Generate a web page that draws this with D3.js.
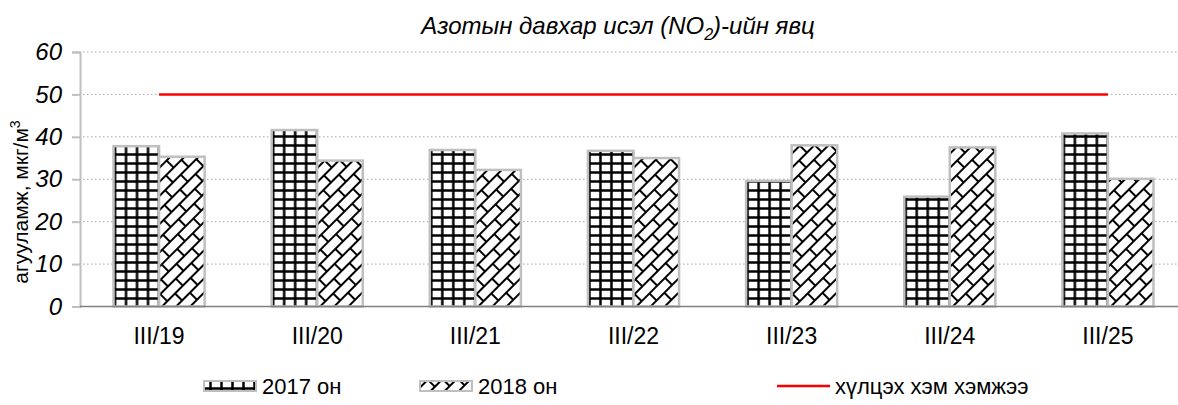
<!DOCTYPE html>
<html>
<head>
<meta charset="utf-8">
<script src="https://cdn.jsdelivr.net/npm/d3@7"></script>
<style>
  body { margin: 0; background: #fff; }
  svg { display: block; font-family: Arial, "Liberation Sans", sans-serif; }
</style>
</head>
<body>
<div id="chart"></div>
<script>
// chart data
const categories = ['III/19', 'III/20', 'III/21', 'III/22', 'III/23', 'III/24', 'III/25'];
const values2017 = [37.8, 41.6, 36.9, 36.7, 29.6, 25.9, 40.8];
const values2018 = [35.3, 34.4, 32.2, 35.0, 38.0, 37.5, 30.1];
const limitValue = 50;
const yTicks = [0, 10, 20, 30, 40, 50, 60];
const seriesNames = ['2017 он', '2018 он'];
const limitName = 'хүлцэх хэм хэмжээ';

// layout
const width = 1178, height = 405;
const margin = {t: 52, l: 80};
const plotBottom = 306.5;
const plotRight = 1187;

const svg = d3.select('#chart').append('svg')
    .attr('width', width)
    .attr('height', height);

// patterns
const defs = svg.append('defs');

const grid = defs.append('pattern')
    .attr('id', 'pat-grid')
    .attr('patternUnits', 'userSpaceOnUse')
    .attr('width', 11)
    .attr('height', 9);
grid.append('rect').attr('width', 11).attr('height', 9).attr('fill', '#fff');
grid.append('line').attr('x1', 1.5).attr('x2', 1.5).attr('y1', 0).attr('y2', 9)
    .attr('stroke', '#000').attr('stroke-width', 2.5);
grid.append('line').attr('x1', 0).attr('x2', 11).attr('y1', 1.5).attr('y2', 1.5)
    .attr('stroke', '#000').attr('stroke-width', 2.5);

const brick = defs.append('pattern')
    .attr('id', 'pat-brick')
    .attr('patternUnits', 'userSpaceOnUse')
    .attr('width', 22)
    .attr('height', 20)
    .attr('patternTransform', 'rotate(-45)');
brick.append('rect').attr('width', 22).attr('height', 20).attr('fill', '#fff');
brick.append('path')
    .attr('d', 'M0,1H22M0,11H22M1,1V11M12,11V21')
    .attr('stroke', '#000')
    .attr('stroke-width', 2)
    .attr('fill', 'none');

// scales
const x0 = d3.scaleBand()
    .domain(categories)
    .range([margin.l, plotRight])
    .paddingInner(0.424)
    .paddingOuter(0.212);

const x1 = d3.scaleBand()
    .domain(seriesNames)
    .range([0, x0.bandwidth()]);

const y = d3.scaleLinear()
    .domain([0, 60])
    .range([plotBottom, margin.t]);

// gridlines
svg.append('g').selectAll('line')
    .data(yTicks.filter(d => d > 0))
    .join('line')
    .attr('x1', margin.l + 3)
    .attr('x2', width)
    .attr('y1', d => y(d))
    .attr('y2', d => y(d))
    .attr('stroke', '#a6a6a6')
    .attr('stroke-width', 1)
    .attr('stroke-dasharray', '1.5,2.5');

// y axis
const yAxis = svg.append('g')
    .attr('transform', `translate(${margin.l},0)`)
    .call(d3.axisLeft(y).tickValues(yTicks).tickSize(8).tickPadding(10));
yAxis.select('.domain').attr('stroke', '#bfbfbf').attr('stroke-width', 2);
yAxis.selectAll('.tick line').attr('stroke', '#bfbfbf').attr('stroke-width', 2);
yAxis.selectAll('.tick text')
    .attr('fill', '#000')
    .style('font-size', '24px')
    .style('font-style', 'italic')
    .style('font-family', 'Arial, "Liberation Sans", sans-serif');

// bars
const data = categories.map((c, i) => ({cat: c, vals: [values2017[i], values2018[i]]}));
const fills = ['url(#pat-grid)', 'url(#pat-brick)'];

const groups = svg.append('g').selectAll('g')
    .data(data)
    .join('g')
    .attr('transform', d => `translate(${x0(d.cat)},0)`);

groups.selectAll('rect')
    .data(d => d.vals.map((v, j) => ({name: seriesNames[j], v, j})))
    .join('rect')
    .attr('x', d => x1(d.name))
    .attr('y', d => y(d.v))
    .attr('width', x1.bandwidth())
    .attr('height', d => plotBottom - y(d.v))
    .attr('fill', d => fills[d.j])
    .attr('stroke', '#bfbfbf')
    .attr('stroke-width', 2.5);

// x axis
svg.append('line')
    .attr('x1', margin.l)
    .attr('x2', width)
    .attr('y1', plotBottom)
    .attr('y2', plotBottom)
    .attr('stroke', '#808080')
    .attr('stroke-width', 1.5);

svg.append('g').selectAll('text')
    .data(categories)
    .join('text')
    .attr('x', d => x0(d) + x0.bandwidth() / 2)
    .attr('y', 344)
    .attr('text-anchor', 'middle')
    .style('font-size', '23px')
    .text(d => d);

// limit line
svg.append('path')
    .datum(categories)
    .attr('d', d3.line()
        .x(d => x0(d) + x0.bandwidth() / 2)
        .y(() => y(limitValue)))
    .attr('stroke', '#ff0000')
    .attr('stroke-width', 2.5)
    .attr('fill', 'none');

// title
const title = svg.append('text')
    .attr('x', 618)
    .attr('y', 34)
    .attr('text-anchor', 'middle')
    .style('font-size', '24px')
    .style('font-style', 'italic');
title.append('tspan').text('Азотын давхар исэл (NO');
title.append('tspan').attr('dy', 6).style('font-size', '16px').text('2');
title.append('tspan').attr('dy', -6).text(')-ийн явц');

// y title
const yTitle = svg.append('text')
    .attr('transform', 'translate(28,202) rotate(-90)')
    .attr('text-anchor', 'middle')
    .style('font-size', '21px');
yTitle.append('tspan').text('агууламж, мкг/м');
yTitle.append('tspan').attr('dy', -8).style('font-size', '14px').text('3');

// legend
const legendY = 386;
const legend = svg.append('g');
const swatchX = [204, 420];
legend.selectAll('rect')
    .data(seriesNames)
    .join('rect')
    .attr('x', (d, i) => swatchX[i])
    .attr('y', legendY - 5)
    .attr('width', 52)
    .attr('height', 10)
    .attr('fill', (d, i) => fills[i])
    .attr('stroke', '#bfbfbf')
    .attr('stroke-width', 2);
legend.selectAll('text.lg')
    .data(seriesNames.concat([limitName]))
    .join('text')
    .attr('class', 'lg')
    .attr('x', (d, i) => [262, 478, 835][i])
    .attr('y', legendY + 8)
    .style('font-size', '22px')
    .text(d => d);
legend.append('line')
    .attr('x1', 777)
    .attr('x2', 830)
    .attr('y1', legendY)
    .attr('y2', legendY)
    .attr('stroke', '#ff0000')
    .attr('stroke-width', 2.5);
</script>
</body>
</html>
